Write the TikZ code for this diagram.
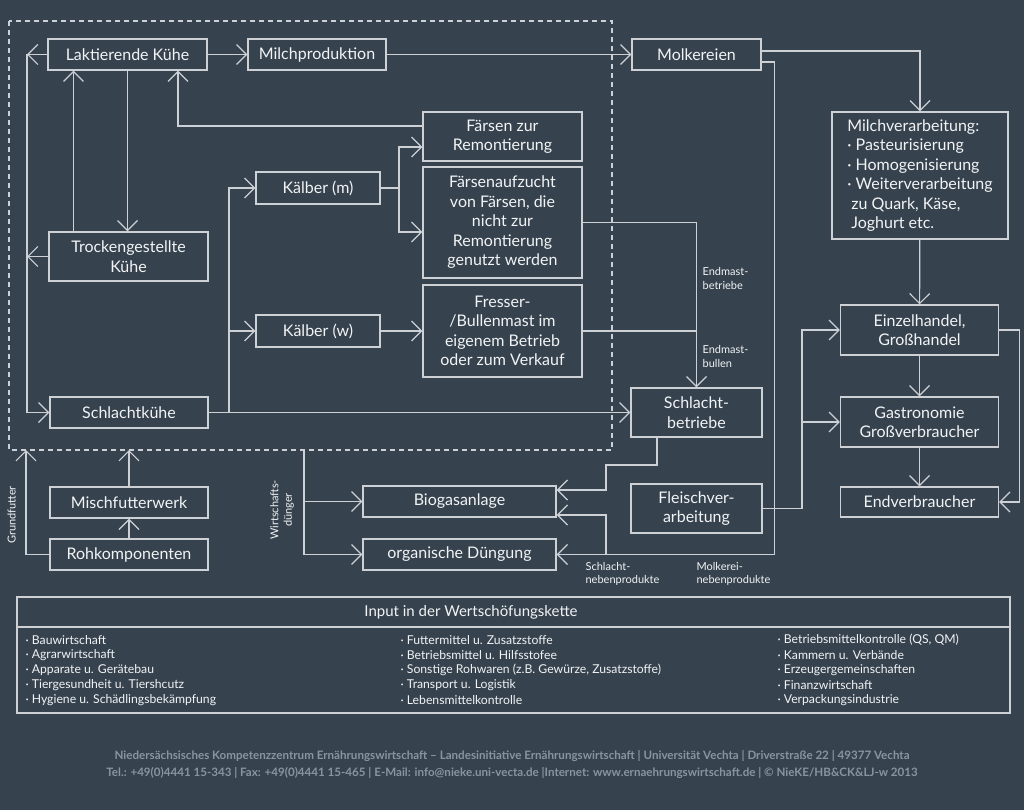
\documentclass[tikz,border=0pt]{standalone}
\usepackage{fontspec}
\setmainfont{Lato}
\usepackage{xcolor}
\usetikzlibrary{arrows.meta}

\definecolor{bg}{HTML}{36434F}
\definecolor{linec}{HTML}{CDD1D5}
\definecolor{txt}{HTML}{F2F3F4}
\definecolor{foot}{HTML}{8A949E}

\tikzset{
	box/.style={draw=linec, line width=1.3pt, text=txt, align=center, inner sep=0pt, font=\fontsize{16}{19.5}\selectfont},
	arr/.style={-{Straight Barb[length=10pt,width=20pt]}},
	lab/.style={text=txt, align=left, inner sep=0pt, font=\fontsize{11}{13.5}\selectfont},
	item/.style={text=txt, anchor=west, inner sep=0pt, font=\fontsize{12.2}{15}\selectfont},
}

\begin{document}
\begin{tikzpicture}[x=1pt, y=-1pt, line width=1.2pt, color=linec]
	\fill[bg] (0,0) rectangle (1024,810);
	\useasboundingbox (0,0) rectangle (1024,810);
	% Betrieb
	\coordinate (fr1) at (9,21);
	\coordinate (fr2) at (612,450);
	\draw[dashed, dash pattern=on 5pt off 4pt] (fr1) rectangle (fr2);
	\node[box, minimum width=159pt, minimum height=31pt] (lak) at (127.5,54.5) {Laktierende Kühe};
	\node[box, minimum width=138pt, minimum height=31pt] (milch) at (317,54.5) {Milchproduktion};
	\node[box, minimum width=129pt, minimum height=31pt] (molk) at (696.5,54.5) {Molkereien};
	\node[box, minimum width=159pt, minimum height=49pt] (fz) at (502.5,136.5) {Färsen zur\\Remontierung};
	\node[box, minimum width=159pt, minimum height=111pt] (faz) at (502.5,222.5) {Färsenaufzucht\\von Färsen, die\\nicht zur\\Remontierung\\genutzt werden};
	\node[box, minimum width=159pt, minimum height=92pt] (fre) at (502.5,331) {Fresser-\\/Bullenmast im\\eigenem Betrieb\\oder zum Verkauf};
	\node[box, minimum width=124pt, minimum height=32pt] (km) at (318,188) {Kälber (m)};
	\node[box, minimum width=124pt, minimum height=32pt] (kw) at (318,331) {Kälber (w)};
	\node[box, minimum width=159pt, minimum height=49pt] (tro) at (128.5,256.5) {Trockengestellte\\Kühe};
	\node[box, minimum width=158pt, minimum height=31pt] (schk) at (129,412.5) {Schlachtkühe};
	% Futter und Duenger
	\node[box, minimum width=158pt, minimum height=31pt] (misch) at (129,502.5) {Mischfutterwerk};
	\node[box, minimum width=158pt, minimum height=31pt] (roh) at (129,554.5) {Rohkomponenten};
	\node[box, minimum width=193pt, minimum height=31pt] (bio) at (459.5,501.5) {Biogasanlage};
	\node[box, minimum width=193pt, minimum height=31pt] (org) at (459.5,554.5) {organische Düngung};
	% Verarbeitung und Handel
	\node[box, minimum width=131pt, minimum height=49pt] (sb) at (696.5,412.5) {Schlacht-\\betriebe};
	\node[box, minimum width=131pt, minimum height=49pt] (fv) at (696.5,508.5) {Fleischver-\\arbeitung};
	\node[box, minimum width=176pt, minimum height=127pt, align=left] (mv) at (920,175.5) {Milchverarbeitung:\\· Pasteurisierung\\· Homogenisierung\\· Weiterverarbeitung\\\hspace*{4pt}zu Quark, Käse,\\\hspace*{4pt}Joghurt etc.};
	\node[box, minimum width=158pt, minimum height=50pt] (eh) at (919.5,330) {Einzelhandel,\\Großhandel};
	\node[box, minimum width=158pt, minimum height=50pt] (ga) at (919.5,422) {Gastronomie\\Großverbraucher};
	\node[box, minimum width=158pt, minimum height=30pt] (ev) at (919.5,502) {Endverbraucher};

	\coordinate (lx1) at (27,54.5);
	\coordinate (lx2) at (27,256.5);
	\coordinate (kmj) at (399,188);
	\coordinate (skj) at (229,412.5);
	\coordinate (emj) at (696.5,222.5);
	\coordinate (fvj) at (802,508.5);
	\coordinate (bpj) at (606,554.5);
	\coordinate (gf) at (26,450);
	\coordinate (wd) at (304,450);

	\draw[arr] (lak) -- (milch);
	\draw[arr] (milch) -- (molk);
	\draw[arr] (lak.west) -- (lx1);
	\draw[arr] (tro.west) -- (lx2);
	\draw[arr] (lx1) |- (schk.west);
	\draw[arr] ([xshift=-55pt]tro.north) -- ([xshift=-55pt]tro.north |- lak.south);
	\draw[arr] (lak.south) -- (lak.south |- tro.north);
	\draw[arr] ([yshift=10.5pt]fz.west) -| ([xshift=50.5pt]lak.south);
	\draw (km.east) -- (kmj);
	\draw[arr] (kmj) |- ([yshift=-10.5pt]fz.west);
	\draw[arr] (kmj) |- ([yshift=-9.5pt]faz.west);
	\draw[arr] (kw) -- (fre);
	\draw[arr] (schk.east) -- (sb.west);
	\draw[arr] (skj) |- (km.west);
	\draw[arr] (skj) |- (kw.west);
	\draw (faz.east) -- (emj);
	\draw (fre.east) -- (fre.east -| emj);
	\draw[arr] (emj) -- (sb.north);
	\node[lab, anchor=west] at (702,278.5) {Endmast-\\betriebe};
	\node[lab, anchor=west] at (702,356.5) {Endmast-\\bullen};

	\draw[arr] ([yshift=3.5pt]molk.east) -| (mv.north);
	\draw[arr] ([yshift=-7.5pt]molk.east) -- ++(13,0) |- (org.east);
	\draw[arr] (bpj) |- ([yshift=-13.5pt]bio.east);
	\draw[arr] ([xshift=-39.5pt]sb.south) |- (606,465) |- ([yshift=11.5pt]bio.east);
	\node[lab, anchor=west] at (585,574) {Schlacht-\\nebenprodukte};
	\node[lab, anchor=west] at (696,574) {Molkerei-\\nebenprodukte};

	\draw[arr] (mv) -- (eh);
	\draw[arr] (eh) -- (ga);
	\draw[arr] (ga) -- (ev);
	\draw[arr] (eh.east) -- ++(20,0) |- (ev.east);
	\draw (fv.east) -- (fvj);
	\draw[arr] (fvj) |- (eh.west);
	\draw[arr] (fvj |- ga.west) -- (ga.west);

	\draw[arr] (roh) -- (misch);
	\draw[arr] (misch.north) -- (misch.north |- fr2);
	\draw[arr] (roh.west) -| (gf);
	\node[lab, rotate=90] at (11.5,515) {Grundfutter};
	\draw[arr] (wd) |- (org.west);
	\draw[arr] (wd |- bio.west) -- (bio.west);
	\node[lab, rotate=90, align=center] at (282,510) {Wirtschafts-\\dünger};

	% Input
	\node[draw=linec, line width=1.3pt, minimum width=993pt, minimum height=116pt, inner sep=0pt] (inbox) at (513.5,655) {};
	\draw[line width=1.3pt] (inbox.west |- 0,627) -- (inbox.east |- 0,627);
	\node[text=txt, font=\fontsize{15}{18}\selectfont] (intitle) at (471,612) {Input in der Wertschöfungskette};
	\foreach \t [count=\i] in {Bauwirtschaft, Agrarwirtschaft, Apparate u. Gerätebau, Tiergesundheit u. Tiershcutz, Hygiene u. Schädlingsbekämpfung}
		\node[item] (a\i) at (25,{625+15*\i}) {· \t};
	\foreach \t [count=\i] in {Futtermittel u. Zusatzstoffe, Betriebsmittel u. Hilfsstofee, {Sonstige Rohwaren (z.B. Gewürze, Zusatzstoffe)}, Transport u. Logistik, Lebensmittelkontrolle}
		\node[item] (b\i) at (400,{625+15*\i}) {· \t};
	\foreach \t [count=\i] in {{Betriebsmittelkontrolle (QS, QM)}, Kammern u. Verbände, Erzeugergemeinschaften, Finanzwirtschaft, Verpackungsindustrie}
		\node[item] (c\i) at (777,{625+15*\i}) {· \t};

	% Fusszeile
	\node[text=foot, font=\fontsize{11.6}{14}\selectfont\bfseries] (f1) at (512,756) {Niedersächsisches Kompetenzzentrum Ernährungswirtschaft – Landesinitiative Ernährungswirtschaft | Universität Vechta | Driverstraße 22 | 49377 Vechta};
	\node[text=foot, font=\fontsize{11.6}{14}\selectfont\bfseries] (f2) at (512,773) {Tel.: +49(0)4441 15-343 | Fax: +49(0)4441 15-465 | E-Mail: info@nieke.uni-vecta.de |Internet: www.ernaehrungswirtschaft.de | © NieKE/HB\&CK\&LJ-w 2013};
\end{tikzpicture}
\end{document}
